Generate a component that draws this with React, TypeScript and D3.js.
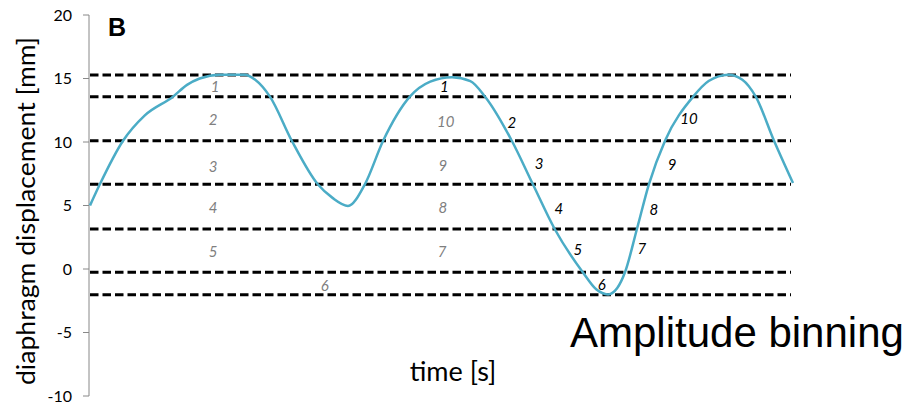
import React from 'react';
import * as d3 from 'd3';

// displacement curve, time in arbitrary seconds
const times = [0, 0.14, 0.47, 0.78, 1.18, 1.38, 1.56, 1.85, 2.2, 2.35, 2.56, 2.87, 3.24, 3.45, 3.67, 3.91, 4.17, 4.55, 4.84, 5.15, 5.41, 5.62, 6.0, 6.3, 6.61, 7.01, 7.2, 7.37, 7.5, 7.61, 7.78, 7.95, 8.18, 8.58, 8.8, 9.08, 9.28, 9.47, 9.73, 10.0];
const displacement = [5.0, 6.67, 10.1, 12.1, 13.57, 14.5, 15.0, 15.3, 15.3, 14.9, 13.57, 10.1, 6.67, 5.6, 4.97, 6.67, 10.1, 13.57, 14.75, 15.1, 14.8, 13.57, 10.1, 6.67, 3.15, -0.26, -1.6, -2.0, -1.5, -0.26, 3.15, 6.67, 10.1, 13.57, 14.8, 15.3, 14.9, 13.57, 10.1, 6.77];

// amplitude bin thresholds
const thresholds = [15.28, 13.57, 10.1, 6.67, 3.15, -0.26, -2.02];

const yTicks = [-10, -5, 0, 5, 10, 15, 20];

// bin numbers (grey, inhale/exhale columns)
const greyLabels = ['1', '2', '3', '4', '5', '6', '10', '9', '8', '7'];
const greyT = [1.78, 1.75, 1.75, 1.75, 1.75, 3.34, 5.06, 5.02, 5.02, 5.01];
const greyV = [14.33, 11.73, 8.03, 4.8, 1.34, -1.34, 11.57, 8.11, 4.8, 1.34];

// bin numbers along one breathing cycle (black)
const blackLabels = ['1', '2', '3', '4', '5', '6', '7', '8', '9', '10'];
const blackT = [5.04, 6.0, 6.39, 6.67, 6.94, 7.28, 7.85, 8.02, 8.28, 8.52];
const blackV = [14.33, 11.5, 8.27, 4.72, 1.5, -1.26, 1.57, 4.65, 8.19, 11.81];

const W = 916, H = 403;
const font = 'Lato, "Open Sans", sans-serif';

export default function App() {
  const x = d3.scaleLinear().domain([0, 10]).range([90, 793]);
  const y = d3.scaleLinear().domain([-10, 20]).range([396, 15]);

  const line = d3.line<number>()
    .x((d, i) => x(times[i]))
    .y(d => y(d))
    .curve(d3.curveMonotoneX);

  return (
    <svg width={W} height={H} style={{ position: 'absolute', left: 0, top: 0, background: '#fff' }}>
      {/* y axis */}
      <line x1={89} x2={89} y1={y(20)} y2={y(-10)} stroke="#888" strokeWidth={1} />
      {yTicks.map(t => (
        <g key={t}>
          <line x1={83} x2={89} y1={y(t)} y2={y(t)} stroke="#888" />
          <text x={72} y={y(t)} dy="0.35em" textAnchor="end" fontFamily={font} fontSize={16} fill="#000">{t}</text>
        </g>
      ))}

      {/* thresholds */}
      {thresholds.map((v, i) => (
        <line key={i} x1={x(0)} x2={x(10) - 2} y1={y(v)} y2={y(v)}
          stroke="#000" strokeWidth={3} strokeDasharray="8.5,4" />
      ))}

      <path d={line(displacement) || ''} fill="none" stroke="#4BACC6" strokeWidth={2.5} />

      {greyLabels.map((l, i) => (
        <text key={'g' + i} x={x(greyT[i])} y={y(greyV[i])} dy="0.35em" textAnchor="middle"
          fontFamily={font} fontStyle="italic" fontSize={15} fill="#7f7f7f">{l}</text>
      ))}
      {blackLabels.map((l, i) => (
        <text key={'b' + i} x={x(blackT[i])} y={y(blackV[i])} dy="0.35em" textAnchor="middle"
          fontFamily={font} fontStyle="italic" fontSize={15} fill="#000">{l}</text>
      ))}

      <text transform={`translate(35,211) rotate(-90)`} textAnchor="middle" fontFamily={font} fontSize={25}
        textLength={348} lengthAdjust="spacingAndGlyphs" fill="#000">
        diaphragm displacement [mm]
      </text>
      <text x={453} y={381} textAnchor="middle" fontFamily={font} fontSize={27} fill="#000">time [s]</text>
      <text x={108} y={36} fontFamily="Arial, 'Liberation Sans', sans-serif" fontWeight="bold" fontSize={25} fill="#000">B</text>
      <text x={570} y={347} fontFamily="Arial, 'Liberation Sans', sans-serif" fontSize={42} fill="#000">Amplitude binning</text>
    </svg>
  );
}
